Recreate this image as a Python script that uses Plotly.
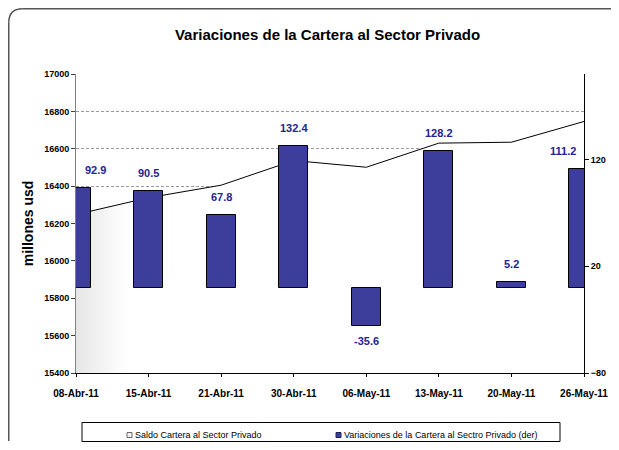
import plotly.graph_objects as go

# datos
fechas = ["08-Abr-11", "15-Abr-11", "21-Abr-11", "30-Abr-11",
          "06-May-11", "13-May-11", "20-May-11", "26-May-11"]
saldo = [16248, 16338, 16405, 16537, 16501, 16630, 16635, 16746]
variaciones = [92.9, 90.5, 67.8, 132.4, -35.6, 128.2, 5.2, 111.2]

serie_saldo = "Saldo Cartera al Sector Privado"
serie_var = "Variaciones de la Cartera al Sectro Privado (der)"

azul = "#3D3D9B"
azul_txt = "#232391"
fuente = "Liberation Sans"

# la pagina deja 8px de margen: la figura ocupa 603x434 y las posiciones
# se escriben en pixeles de pantalla menos 8
W, H = 603, 434
L, R, T, B = 68, 27, 66, 69
pw, ph = W - L - R, H - T - B


def px(sx):
    return (sx - 8 - L) / pw


def py(sy):
    return (H - B - (sy - 8)) / ph


fig = go.Figure()

# saldo como area (tapa las lineas de grilla por debajo)
fig.add_trace(go.Scatter(
    x=fechas, y=saldo, name=serie_saldo,
    mode="lines", line=dict(color="black", width=1),
    fill="tozeroy",
    fillgradient=dict(type="horizontal",
                      colorscale=[[0, "#e6e6e6"], [0.1, "#ffffff"], [1, "#ffffff"]]),
    yaxis="y",
))

fig.add_trace(go.Bar(
    x=fechas, y=variaciones, name=serie_var,
    marker=dict(color=azul, line=dict(color="black", width=1)),
    width=0.4, yaxis="y2",
))

# etiquetas de las barras
for i, (f, v) in enumerate(zip(fechas, variaciones)):
    dx = 0
    if i == 0:
        dx = 19
    elif i == len(fechas) - 1:
        dx = -21
    fig.add_annotation(
        x=f, y=v, yref="y2", text=f"{v:.1f}", showarrow=False,
        yshift=18 if v >= 0 else -15, xshift=dx,
        font=dict(family=fuente, size=11, color=azul_txt, weight="bold"),
    )

# marco redondeado del grafico (solo se ven el borde izquierdo y el superior)
r = 14
x0, y0, x1, y1 = 8.75, 8.75, 611, 441
marco_linea = dict(color="#555555", width=1.5)
fig.add_shape(type="line", xref="paper", yref="paper",
              x0=px(x0), x1=px(x0), y0=py(y1), y1=py(y0 + r),
              line=marco_linea, layer="above")
fig.add_shape(type="line", xref="paper", yref="paper",
              x0=px(x0 + r), x1=px(x1), y0=py(y0), y1=py(y0),
              line=marco_linea, layer="above")
fig.add_shape(type="path", xref="paper", yref="paper",
              path=f"M {px(x0)},{py(y0 + r)} Q {px(x0)},{py(y0)} {px(x0 + r)},{py(y0)}",
              line=marco_linea, layer="above")

# leyenda armada a mano (cuadro, marcadores y textos)
fig.add_shape(type="rect", xref="paper", yref="paper",
              x0=px(82), x1=px(560), y0=py(441.5), y1=py(422.5),
              line=dict(color="black", width=1), fillcolor="white", layer="above")
ly = 435
fig.add_shape(type="rect", xref="paper", yref="paper",
              x0=px(127), x1=px(132), y0=py(ly + 2.5), y1=py(ly - 2.5),
              line=dict(color="#6a6a6a", width=1), fillcolor="#f2f2f2", layer="above")
fig.add_shape(type="rect", xref="paper", yref="paper",
              x0=px(336), x1=px(341), y0=py(ly + 2.5), y1=py(ly - 2.5),
              line=dict(color="#202060", width=1), fillcolor=azul, layer="above")
fig.add_annotation(xref="paper", yref="paper", x=px(133), y=py(ly),
                   xanchor="left", yanchor="middle", text=serie_saldo,
                   showarrow=False, font=dict(size=9, family=fuente, color="black"))
fig.add_annotation(xref="paper", yref="paper", x=px(342), y=py(ly),
                   xanchor="left", yanchor="middle", text=serie_var,
                   showarrow=False, font=dict(size=9, family=fuente, color="black"))

fig.update_layout(
    width=W, height=H,
    margin=dict(l=L, r=R, t=T, b=B, autoexpand=False),
    paper_bgcolor="white", plot_bgcolor="white",
    font=dict(family=fuente, color="black"),
    title=dict(text="<b>Variaciones de la Cartera al Sector Privado</b>",
               x=px(327.5), xref="paper", xanchor="center",
               y=1 - 27 / H, yanchor="middle",
               font=dict(size=15, family=fuente, color="black")),
    showlegend=False,
    bargap=0,
)

fig.update_xaxes(
    type="category", range=[0, 7], showline=True, linecolor="black", linewidth=1,
    ticks="outside", ticklen=3, tickcolor="black", showgrid=False, automargin=False,
    tickfont=dict(size=10, family=fuente, weight="bold"), ticklabelstandoff=8,
)

fig.update_layout(
    yaxis=dict(range=[15400, 17000], dtick=200, tickformat="d", automargin=False,
               showline=True, linecolor="#808080",
               ticks="outside", ticklen=4, tickcolor="#404040",
               showgrid=True, gridcolor="#9a9a9a", griddash="3px,2px", gridwidth=1,
               tickfont=dict(size=9, family=fuente, weight="bold"),
               title=dict(text="millones usd", standoff=7,
                          font=dict(size=14, family=fuente, weight="bold")),
               zeroline=False),
    yaxis2=dict(range=[-80, 200], tickvals=[-80, 20, 120], overlaying="y", side="right",
                automargin=False,
                showline=True, linecolor="black", ticks="outside", ticklen=4,
                tickcolor="black", showgrid=False, zeroline=False,
                tickfont=dict(size=9, family=fuente, weight="bold")),
)

fig.write_html("out.html")
